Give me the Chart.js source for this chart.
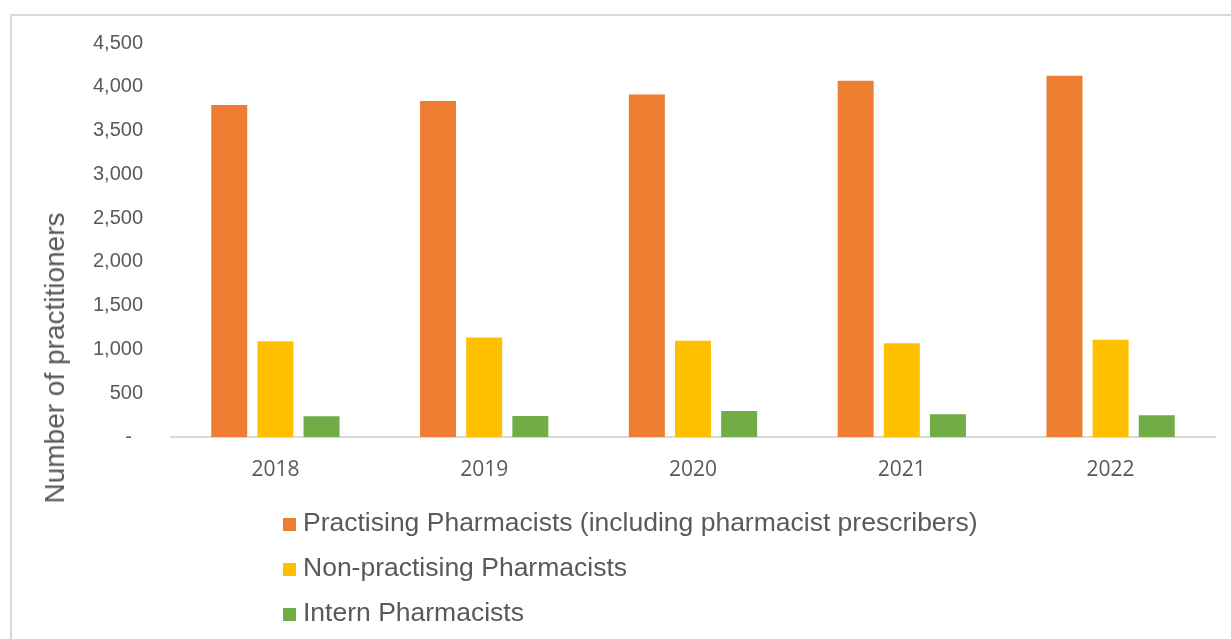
<!DOCTYPE html>
<html>
<head>
<meta charset="utf-8">
<script src="https://cdn.jsdelivr.net/npm/chart.js@4"></script>
<style>
  html, body { margin: 0; padding: 0; background: #fff; }
  body { width: 1231px; height: 639px; position: relative; overflow: hidden; }
  .frame { position: absolute; left: 10px; top: 14px; right: 0; bottom: 0; border-left: 2px solid #d9d9d9; border-top: 2px solid #d9d9d9; }
  #wrap { position: absolute; left: 0; top: 0; width: 1231px; height: 639px; }
  .ytitle { position: absolute; left: 55px; top: 358px; transform: translate(-50%, -50%) rotate(-90deg); white-space: nowrap;
    font-family: "Liberation Sans", Arial, sans-serif; font-size: 28px; color: #595959; }
  .legend { position: absolute; left: 283px; top: 500px; font-family: "Liberation Sans", Arial, sans-serif;
    font-size: 26.5px; color: #595959; }
  .legend div { height: 45px; line-height: 45px; white-space: nowrap; }
  .legend span.sw { display: inline-block; width: 13px; height: 13px; margin-right: 7px; vertical-align: 0px; }
</style>
</head>
<body>
<div class="frame"></div>
<div id="wrap"><canvas id="chart"></canvas></div>
<div class="ytitle">Number of practitioners</div>
<div class="legend" id="legend"></div>
<script>
const years = ['2018', '2019', '2020', '2021', '2022'];
const practising = [3791, 3837, 3913, 4070, 4127];
const nonPractising = [1095, 1136, 1098, 1072, 1110];
const intern = [237, 240, 297, 260, 248];
const seriesNames = ['Practising Pharmacists (including pharmacist prescribers)', 'Non-practising Pharmacists', 'Intern Pharmacists'];
const seriesColors = ['#ED7D31', '#FFC000', '#70AD47'];
const yTicks = [0, 500, 1000, 1500, 2000, 2500, 3000, 3500, 4000, 4500];

document.addEventListener('DOMContentLoaded', () => {
  const ctx = document.getElementById('chart').getContext('2d');
  const values = [practising, nonPractising, intern];

  new Chart(ctx, {
    type: 'bar',
    data: {
      labels: years,
      datasets: values.map((v, i) => ({
        label: seriesNames[i],
        data: v,
        backgroundColor: seriesColors[i],
        categoryPercentage: 0.663,
        barPercentage: 0.78
      }))
    },
    options: {
      responsive: true,
      maintainAspectRatio: false,
      animation: false,
      layout: { padding: { left: 0, top: 43, right: 16, bottom: 0 } },
      plugins: { legend: { display: false }, tooltip: { enabled: false } },
      scales: {
        x: {
          grid: { display: false, drawTicks: false },
          border: { color: '#d9d9d9', width: 2 },
          ticks: { padding: 20, color: '#595959', font: { family: '"Open Sans", sans-serif', size: 21 } },
          afterFit: s => { s.height = 639 - 437; }
        },
        y: {
          min: 0,
          max: 4500,
          afterBuildTicks: s => { s.ticks = yTicks.map(v => ({ value: v })); },
          grid: { display: false, drawTicks: false },
          border: { display: false },
          ticks: {
            padding: 28,
            color: '#595959',
            font: { family: '"Liberation Sans", Arial, sans-serif', size: 20 },
            callback: v => v === 0 ? '-  ' : v.toLocaleString('en-US')
          },
          afterFit: s => { s.width = 171; }
        }
      }
    }
  });

  // legend, one series per row
  const lg = document.getElementById('legend');
  seriesNames.forEach((name, i) => {
    const row = document.createElement('div');
    const sw = document.createElement('span');
    sw.className = 'sw';
    sw.style.background = seriesColors[i];
    row.appendChild(sw);
    row.appendChild(document.createTextNode(name));
    lg.appendChild(row);
  });
});
</script>
</body>
</html>
